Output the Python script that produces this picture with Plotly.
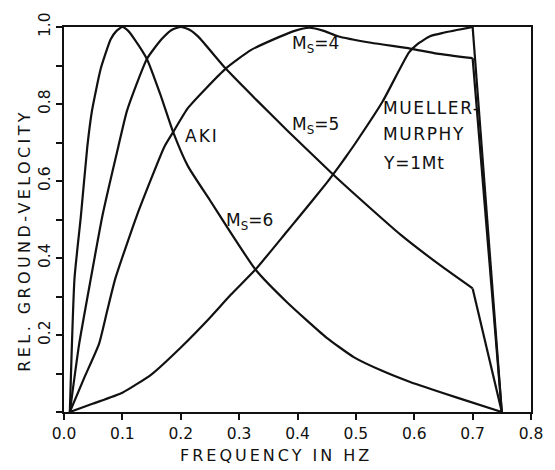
import plotly.graph_objects as go

# Relative ground-velocity spectra (AKI model for three surface-wave magnitudes,
# plus the Mueller-Murphy source for a 1 Mt yield).
ms6_freq = [0.01, 0.018, 0.029, 0.040, 0.048, 0.063, 0.080, 0.090, 0.100, 0.110, 0.120,
            0.142, 0.165, 0.187, 0.2125, 0.250, 0.277, 0.328, 0.382, 0.449, 0.497,
            0.545, 0.593, 0.672, 0.750]
ms6_vel = [0.0, 0.347, 0.510, 0.690, 0.783, 0.892, 0.968, 0.990, 1.000, 0.990, 0.970,
           0.917, 0.825, 0.727, 0.638, 0.550, 0.486, 0.370, 0.285, 0.194, 0.142,
           0.107, 0.078, 0.038, 0.0]

ms5_freq = [0.01, 0.026, 0.046, 0.066, 0.093, 0.108, 0.142, 0.167, 0.185, 0.200, 0.215,
            0.230, 0.277, 0.330, 0.382, 0.461, 0.500, 0.577, 0.649, 0.700, 0.750]
ms5_vel = [0.0, 0.177, 0.347, 0.511, 0.689, 0.783, 0.917, 0.968, 0.993, 1.000, 0.993,
           0.975, 0.892, 0.810, 0.732, 0.617, 0.563, 0.460, 0.376, 0.321, 0.0]

ms4_freq = [0.01, 0.035, 0.060, 0.074, 0.088, 0.125, 0.172, 0.187, 0.2125, 0.277, 0.320,
            0.370, 0.395, 0.420, 0.445, 0.469, 0.526, 0.593, 0.639, 0.700, 0.750]
ms4_vel = [0.0, 0.090, 0.177, 0.263, 0.347, 0.511, 0.689, 0.727, 0.790, 0.892, 0.940,
           0.975, 0.990, 0.998, 0.990, 0.976, 0.959, 0.944, 0.931, 0.919, 0.0]

mm_freq = [0.01, 0.050, 0.100, 0.150, 0.201, 0.250, 0.286, 0.328, 0.382, 0.400, 0.450,
           0.461, 0.483, 0.500, 0.546, 0.591, 0.605, 0.627, 0.650, 0.700, 0.750]
mm_vel = [0.0, 0.022, 0.050, 0.098, 0.169, 0.245, 0.305, 0.370, 0.469, 0.502, 0.595,
          0.617, 0.663, 0.700, 0.807, 0.934, 0.955, 0.976, 0.985, 1.000, 0.0]

x_tick_vals = [0.0, 0.1, 0.2, 0.3, 0.4, 0.5, 0.6, 0.7, 0.8]
x_tick_text = ["0.0", "0.1", "0.2", "0.3", "0.4", "0.5", "0.6", "0.7", "0.8"]
y_tick_vals = [0.2, 0.4, 0.6, 0.8, 1.0]
y_tick_text = ["0.2", "0.4", "0.6", "0.8", "1.0"]

curve_labels = [
    ("AKI", 0.204, 0.718, 2.0),
    ("M<sub>S</sub>=6", 0.2746, 0.496, 0),
    ("M<sub>S</sub>=5", 0.387, 0.744, 0),
    ("M<sub>S</sub>=4", 0.387, 0.955, 0),
    ("MUELLER-", 0.5427, 0.790, 1.6),
    ("MURPHY", 0.5427, 0.722, 1.6),
    ("Y=1Mt", 0.5427, 0.646, 0.8),
]

FONT = "DejaVu Sans"
INK = "#111111"

fig = go.Figure()


def add_curve(fx, vy, corner_cut):
    """Smooth body of a spectrum; the cut-off segment after a corner is straight."""
    body_end = len(fx) - 1 if corner_cut else len(fx)
    fig.add_trace(go.Scatter(x=fx[:body_end], y=vy[:body_end], mode="lines",
                             line=dict(color=INK, width=2.2, shape="spline",
                                       smoothing=0.5),
                             hoverinfo="skip", showlegend=False))
    if corner_cut:
        fig.add_trace(go.Scatter(x=fx[-2:], y=vy[-2:], mode="lines",
                                 line=dict(color=INK, width=2.2),
                                 hoverinfo="skip", showlegend=False))


add_curve(ms6_freq, ms6_vel, corner_cut=False)
add_curve(ms5_freq, ms5_vel, corner_cut=True)
add_curve(ms4_freq, ms4_vel, corner_cut=True)
add_curve(mm_freq, mm_vel, corner_cut=True)

for text, fx, vy, spacing in curve_labels:
    if spacing:
        text = f'<span style="letter-spacing:{spacing}px">{text}</span>'
    fig.add_annotation(x=fx, y=vy, xref="x", yref="y", text=text,
                       showarrow=False, xanchor="left", yanchor="middle",
                       font=dict(family=FONT, size=17, color=INK))

fig.add_annotation(x=0.4545, y=-0.114, xref="paper", yref="paper",
                   text='<span style="letter-spacing:3px">FREQUENCY IN HZ</span>',
                   showarrow=False, xanchor="center", yanchor="middle",
                   font=dict(family=FONT, size=16, color=INK))
fig.add_annotation(x=-0.0835, y=0.445, xref="paper", yref="paper",
                   text='<span style="letter-spacing:3.4px">REL. GROUND-VELOCITY</span>',
                   textangle=-90, showarrow=False, xanchor="center", yanchor="middle",
                   font=dict(family=FONT, size=16, color=INK))

axis_common = dict(showgrid=False, zeroline=False, showline=True, linecolor=INK,
                   linewidth=2, mirror=True, ticks="outside", ticklen=6,
                   tickwidth=1.6, tickcolor=INK,
                   tickfont=dict(family=FONT, size=15.5, color=INK))

fig.update_xaxes(range=[0, 0.8], tickmode="array", tickvals=x_tick_vals,
                 ticktext=x_tick_text, **axis_common)
fig.update_yaxes(range=[0, 1.0], tickmode="array", tickvals=y_tick_vals,
                 ticktext=y_tick_text, tickangle=-90,
                 minor=dict(tickmode="linear", tick0=0, dtick=0.1, ticks="outside",
                            ticklen=6, tickwidth=1.6, tickcolor=INK, showgrid=False),
                 **axis_common)

fig.update_layout(width=555, height=470,
                  margin=dict(l=64, r=18, t=17, b=58),
                  paper_bgcolor="white", plot_bgcolor="white")

fig.write_html("out.html")
